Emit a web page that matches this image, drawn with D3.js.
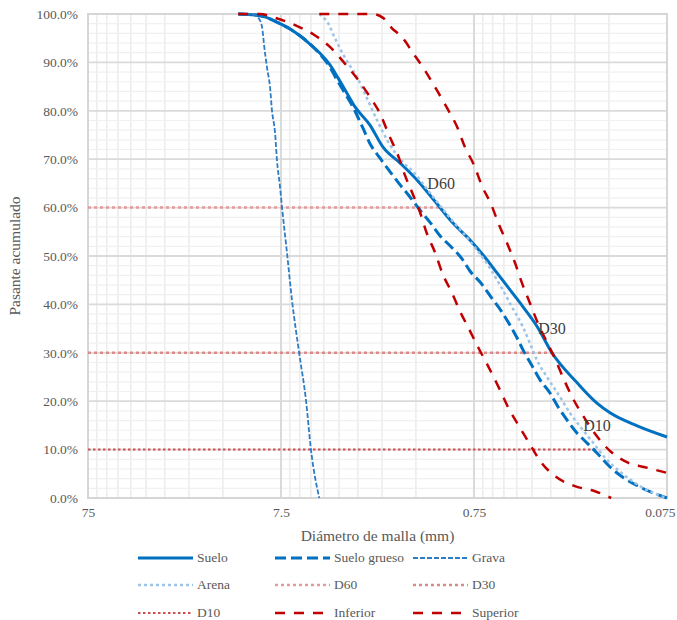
<!DOCTYPE html>
<html>
<head>
<meta charset="utf-8">
<script src="https://cdn.jsdelivr.net/npm/d3@7"></script>
<style>
  body { margin: 0; background: #fff; }
  svg { display: block; }
  text { font-family: "Liberation Serif", "DejaVu Serif", serif; }
</style>
</head>
<body>
<svg id="chart" width="677" height="620"></svg>
<script>
// Grading curves: sieve opening (mm) and cumulative percent passing
const sueloSize = [12.5, 10.2, 9.08, 7.87, 6.73, 5.98, 5.31, 4.71, 4.18, 3.80, 3.49, 3.10, 2.60, 2.22, 1.81, 1.48, 1.19, 0.964, 0.787, 0.673, 0.570, 0.488, 0.418, 0.354, 0.296, 0.219, 0.173, 0.148, 0.107, 0.075];
const sueloPass = [100, 99.8, 99.4, 98.3, 96.9, 95.5, 93.8, 91.9, 89.5, 86.8, 84.3, 80.8, 77.1, 72.5, 69.2, 65.7, 61.2, 56.8, 53.3, 50.2, 46.5, 43.0, 39.5, 35.5, 30.0, 23.8, 19.6, 17.6, 14.9, 12.6];

const gruesoSize = [12.5, 10.2, 9.08, 7.87, 6.73, 5.98, 5.31, 4.71, 4.18, 3.85, 3.58, 3.18, 2.82, 2.60, 2.30, 2.04, 1.81, 1.61, 1.43, 1.27, 1.12, 0.986, 0.865, 0.787, 0.690, 0.612, 0.537, 0.488, 0.449, 0.418, 0.375, 0.341, 0.303, 0.275, 0.247, 0.219, 0.195, 0.173, 0.148, 0.127, 0.104, 0.075];
const gruesoPass = [100, 99.8, 99.4, 98.3, 96.9, 95.5, 93.8, 91.7, 89.0, 86.4, 84.3, 80.8, 76.4, 73.3, 70.2, 67.4, 64.7, 62.2, 59.5, 57.0, 54.1, 51.9, 49.4, 46.9, 44.4, 41.5, 38.4, 35.7, 33.1, 30.6, 27.3, 24.4, 21.7, 18.8, 16.1, 13.4, 11.4, 9.3, 6.4, 4.3, 2.3, 0];

const gravaSize = [12.5, 10.35, 9.75, 9.40, 9.18, 8.87, 8.55, 8.36, 8.05, 7.87, 7.59, 7.41, 6.98, 6.58, 6.05, 5.56, 5.25, 4.75];
const gravaPass = [100, 99.8, 99.0, 97.3, 93.6, 89.0, 84.9, 80.2, 75.4, 69.8, 64.3, 60.1, 50.6, 40.9, 30.2, 20.0, 10.1, 0];

const arenaSize = [4.75, 4.28, 3.94, 3.49, 3.03, 2.69, 2.36, 2.09, 1.75, 1.55, 1.30, 1.11, 0.976, 0.855, 0.723, 0.620, 0.550, 0.477, 0.418, 0.385, 0.354, 0.314, 0.269, 0.239, 0.204, 0.181, 0.157, 0.131, 0.104, 0.075];
const arenaPass = [100, 98.1, 95.0, 90.9, 87.0, 82.6, 77.7, 73.6, 69.4, 67.4, 63.6, 60.1, 57.4, 54.8, 51.2, 47.5, 44.0, 39.5, 35.3, 32.0, 28.5, 25.0, 20.9, 17.6, 14.0, 11.4, 8.3, 5.4, 2.5, 0];

const inferiorSize = [12.5, 9.64, 8.05, 6.34, 5.06, 4.13, 3.49, 2.99, 2.60, 2.28, 2.07, 1.86, 1.71, 1.55, 1.43, 1.32, 1.19, 1.09, 0.976, 0.887, 0.805, 0.715, 0.627, 0.556, 0.500, 0.439, 0.389, 0.337, 0.285, 0.227, 0.177, 0.146];
const inferiorPass = [100, 100, 99.2, 97.7, 95.7, 93.0, 89.7, 86.4, 82.9, 79.1, 75.0, 70.9, 66.7, 62.6, 59.1, 54.8, 50.6, 46.3, 42.4, 38.6, 35.3, 31.2, 26.9, 22.7, 18.8, 14.9, 11.4, 7.4, 4.5, 2.5, 1.4, 0];

const superiorSize = [4.75, 2.53, 2.22, 2.00, 1.77, 1.55, 1.35, 1.17, 1.035, 0.918, 0.836, 0.750, 0.682, 0.612, 0.556, 0.506, 0.460, 0.423, 0.385, 0.349, 0.314, 0.282, 0.256, 0.230, 0.202, 0.175, 0.146, 0.121, 0.094, 0.075];
const superiorPass = [100, 100, 99.2, 97.1, 95.2, 91.9, 88.4, 84.3, 80.6, 76.7, 72.5, 68.8, 64.5, 60.7, 56.4, 52.7, 48.6, 44.4, 40.3, 36.0, 32.2, 28.3, 24.4, 20.5, 16.7, 13.0, 9.5, 7.4, 6.2, 5.2];

// Characteristic diameters
const dNames = ["D60", "D30", "D10"];
const dSize = [1.11, 0.296, 0.173];
const dPass = [60, 30, 10];

// Axis ticks
const xTickValues = [75, 7.5, 0.75, 0.075];
const xTickLabels = ["75", "7.5", "0.75", "0.075"];
const yTickValues = [0, 10, 20, 30, 40, 50, 60, 70, 80, 90, 100];

const FONT = '"Liberation Serif", "DejaVu Serif", serif';
const W = 677, H = 620;
const M = { top: 14, right: 10, bottom: 122, left: 88 };
const svg = d3.select("#chart");

const x = d3.scaleLog().domain([75, 0.075]).range([M.left, W - M.right]);
const y = d3.scaleLinear().domain([0, 100]).range([H - M.bottom, M.top]);

const grid = svg.append("g");

// minor vertical grid: multiples of the decade start
const minorX = [];
[0.075, 0.75, 7.5].forEach(b => { for (let k = 2; k <= 9; k++) minorX.push(b * k); });
grid.selectAll(".vminor").data(minorX).join("line")
  .attr("x1", d => x(d)).attr("x2", d => x(d))
  .attr("y1", y(0)).attr("y2", y(100))
  .attr("stroke", "#ededed").attr("stroke-width", 1.6);

// minor horizontal grid every 2 %
const minorY = d3.range(2, 100, 2).filter(v => v % 10 !== 0);
grid.selectAll(".hminor").data(minorY).join("line")
  .attr("x1", x(75)).attr("x2", x(0.075))
  .attr("y1", d => y(d)).attr("y2", d => y(d))
  .attr("stroke", "#f0f0f0").attr("stroke-width", 1.2);

// major grid
grid.selectAll(".vmajor").data([7.5, 0.75]).join("line")
  .attr("x1", d => x(d)).attr("x2", d => x(d))
  .attr("y1", y(0)).attr("y2", y(100))
  .attr("stroke", "#dadada").attr("stroke-width", 2);
grid.selectAll(".hmajor").data(d3.range(10, 100, 10)).join("line")
  .attr("x1", x(75)).attr("x2", x(0.075))
  .attr("y1", d => y(d)).attr("y2", d => y(d))
  .attr("stroke", "#dadada").attr("stroke-width", 1.8);

grid.append("rect")
  .attr("x", x(75)).attr("y", y(100))
  .attr("width", x(0.075) - x(75)).attr("height", y(0) - y(100))
  .attr("fill", "none").attr("stroke", "#d6d6d6").attr("stroke-width", 2);

// axes
const xAxis = svg.append("g")
  .attr("transform", `translate(0,${y(0)})`)
  .call(d3.axisBottom(x).tickValues(xTickValues)
    .tickFormat((d, i) => xTickLabels[i]).tickSize(0).tickPadding(9));
const yAxis = svg.append("g")
  .attr("transform", `translate(${x(75)},0)`)
  .call(d3.axisLeft(y).tickValues(yTickValues)
    .tickFormat(d => d3.format(".1%")(d / 100)).tickSize(0).tickPadding(10));
[xAxis, yAxis].forEach(a => {
  a.attr("font-family", FONT);
  a.select(".domain").remove();
  a.selectAll("text").attr("fill", "#595959")
    .attr("font-family", FONT).style("font-size", "13.5px");
});
// the last label sits at the right edge; keep it inside the frame
xAxis.selectAll(".tick").filter(d => d === 0.075).select("text")
  .attr("text-anchor", "end").attr("x", W - 2 - x(0.075));

// axis titles
svg.append("text")
  .attr("x", (x(75) + x(0.075)) / 2).attr("y", 541)
  .attr("text-anchor", "middle").attr("fill", "#595959")
  .attr("font-family", FONT)
  .style("font-size", "15.5px").text("Diámetro de malla (mm)");
svg.append("text")
  .attr("transform", `translate(20,${(y(0) + y(100)) / 2}) rotate(-90)`)
  .attr("text-anchor", "middle").attr("fill", "#595959")
  .attr("font-family", FONT)
  .style("font-size", "15.5px").text("Pasante acumulado");

// series definitions
const BLUE = "#0070C0";
const series = [
  { name: "Suelo", size: sueloSize, pass: sueloPass, color: BLUE, width: 3, dash: null },
  { name: "Suelo grueso", size: gruesoSize, pass: gruesoPass, color: BLUE, width: 3, dash: "11,5" },
  { name: "Grava", size: gravaSize, pass: gravaPass, color: "#2E7CC4", width: 1.8, dash: "5,2" },
  { name: "Arena", size: arenaSize, pass: arenaPass, color: "#9DC3E6", width: 2.5, dash: "3,3" },
  { name: "D60", color: "#E39A9A", width: 2.5, dash: "3,3" },
  { name: "D30", color: "#DB8A8A", width: 2.5, dash: "3,3" },
  { name: "D10", color: "#C9504F", width: 2, dash: "2.5,2.5" },
  { name: "Inferior", size: inferiorSize, pass: inferiorPass, color: "#C00000", width: 2.5, dash: "10,9" },
  { name: "Superior", size: superiorSize, pass: superiorPass, color: "#C00000", width: 2.5, dash: "10,9" }
];

const line = d3.line()
  .x(d => x(d[0])).y(d => y(d[1]))
  .curve(d3.curveMonotoneX);

const marks = svg.append("g");

// horizontal reference lines for D60 / D30 / D10
dNames.forEach((n, i) => {
  const s = series.find(e => e.name === n);
  marks.append("path")
    .attr("d", line([[75, dPass[i]], [dSize[i], dPass[i]]]))
    .attr("fill", "none").attr("stroke", s.color)
    .attr("stroke-width", s.width).attr("stroke-dasharray", s.dash);
});

// grading curves
series.filter(s => s.size).forEach(s => {
  const pts = s.size.map((v, i) => [v, s.pass[i]]);
  marks.append("path")
    .attr("d", line(pts))
    .attr("fill", "none").attr("stroke", s.color)
    .attr("stroke-width", s.width)
    .attr("stroke-dasharray", s.dash)
    .attr("stroke-linejoin", "round");
});

// D labels above the end of each reference line
dNames.forEach((n, i) => {
  svg.append("text")
    .attr("x", x(dSize[i])).attr("y", y(dPass[i]) - 24)
    .attr("dy", "0.35em").attr("text-anchor", "middle")
    .attr("font-family", FONT)
    .attr("fill", "#404040").style("font-size", "16px").text(n);
});

// legend: three columns, three rows
const legX = [138, 275, 413], legY = [558, 585, 613];
const leg = svg.append("g");
series.forEach((s, i) => {
  const cx = legX[i % 3], cy = legY[Math.floor(i / 3)];
  leg.append("line")
    .attr("x1", cx).attr("x2", cx + 55).attr("y1", cy).attr("y2", cy)
    .attr("stroke", s.color).attr("stroke-width", s.width)
    .attr("stroke-dasharray", s.dash);
  leg.append("text")
    .attr("x", cx + 59).attr("y", cy).attr("dy", "0.33em")
    .attr("font-family", FONT)
    .attr("fill", "#595959").style("font-size", "13.5px").text(s.name);
});
</script>
</body>
</html>
